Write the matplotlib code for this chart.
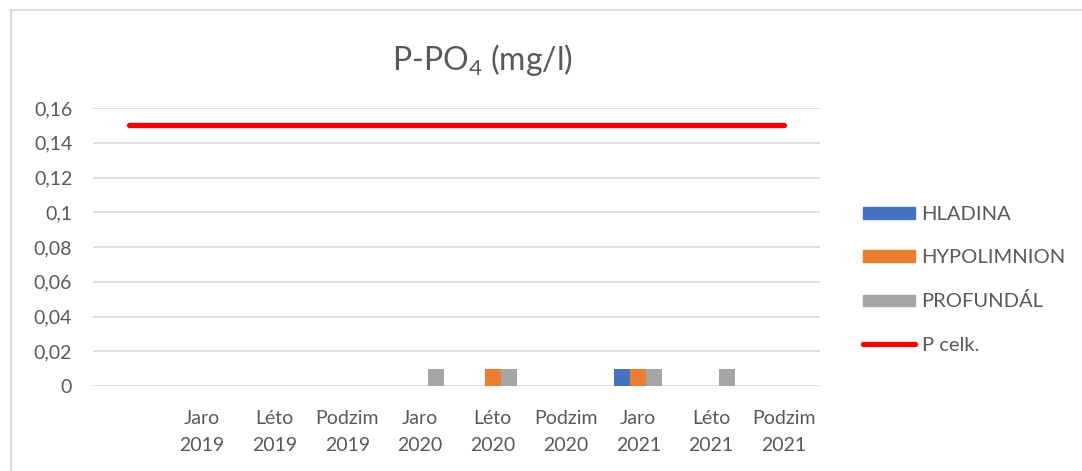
import matplotlib.pyplot as plt
import numpy as np
from matplotlib.patches import Patch
from matplotlib.lines import Line2D

# Data
categories = ["", "Jaro\n2019", "Léto\n2019", "Podzim\n2019", "Jaro\n2020", "Léto\n2020",
              "Podzim\n2020", "Jaro\n2021", "Léto\n2021", "Podzim\n2021"]
hladina = [0, 0, 0, 0, 0, 0, 0, 0.01, 0, 0]
hypolimnion = [0, 0, 0, 0, 0, 0.01, 0, 0.01, 0, 0]
profundal = [0, 0, 0, 0, 0.01, 0.01, 0, 0.01, 0.01, 0]
p_celk = [0.15, 0.15, 0.15, 0.15, 0.15, 0.15, 0.15, 0.15, 0.15, 0.15]
yticks = [0, 0.02, 0.04, 0.06, 0.08, 0.1, 0.12, 0.14, 0.16]

plt.rcParams["font.family"] = ["Lato", "DejaVu Sans"]
text_color = "#595959"
colors = {"HLADINA": "#4472C4", "HYPOLIMNION": "#ED7D31", "PROFUNDÁL": "#A5A5A5"}

fig = plt.figure(figsize=(10.82, 4.71), dpi=100)
ax = fig.add_axes([93 / 1082, 1 - 386 / 471, (820 - 93) / 1082, (386 - 108) / 471])

x = np.arange(len(categories))
w = 0.22
ax.bar(x - w, hladina, w, color=colors["HLADINA"], zorder=3)
ax.bar(x, hypolimnion, w, color=colors["HYPOLIMNION"], zorder=3)
ax.bar(x + w, profundal, w, color=colors["PROFUNDÁL"], zorder=3)
ax.plot(x, p_celk, color="#FF0000", linewidth=3.8, solid_capstyle="round", zorder=4)

ax.set_xlim(-0.5, len(categories) - 0.5)
ax.set_ylim(0, 0.16)
ax.set_yticks(yticks)
ax.set_yticklabels([f"{v:g}".replace(".", ",") for v in yticks])
ax.set_xticks(x)
ax.set_xticklabels(categories, linespacing=1.75)
ax.tick_params(axis="both", length=0, labelsize=14, labelcolor=text_color)
ax.tick_params(axis="y", pad=15)
ax.tick_params(axis="x", pad=17)
ax.grid(axis="y", color="#D9D9D9", linewidth=1.2, zorder=0)
for s in ax.spines.values():
    s.set_visible(False)

fig.text(482 / 1082, 1 - 60 / 471, r"P-PO$\mathregular{_4}$ (mg/l)", fontsize=23,
         color=text_color, ha="center", va="center")

handles = [Patch(color=colors["HLADINA"]), Patch(color=colors["HYPOLIMNION"]),
           Patch(color=colors["PROFUNDÁL"]), Line2D([], [], color="#FF0000", linewidth=3.8,
                                                   solid_capstyle="round")]
labels = ["HLADINA", "HYPOLIMNION", "PROFUNDÁL", "P celk."]
leg = fig.legend(handles, labels, loc="upper left", bbox_to_anchor=(845 / 1082, 1 - 188 / 471),
                 frameon=False, fontsize=14.5, handlelength=2.6, handleheight=0.5,
                 labelspacing=1.3, handletextpad=0.3)
for t in leg.get_texts():
    t.set_color(text_color)

# chart border (top and left visible)
fig.add_artist(Line2D([10 / 1082, 1], [1 - 10 / 471, 1 - 10 / 471], color="#D9D9D9", linewidth=1.2))
fig.add_artist(Line2D([11 / 1082, 11 / 1082], [0, 1 - 10 / 471], color="#D9D9D9", linewidth=1.5))

plt.savefig("out.png", dpi=100)
